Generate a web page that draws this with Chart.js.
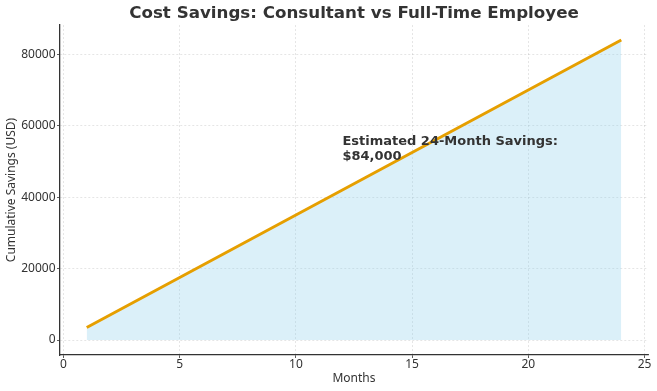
<!DOCTYPE html>
<html>
<head>
<meta charset="utf-8">
<script src="https://cdn.jsdelivr.net/npm/chart.js@4"></script>
<style>
    html, body { margin: 0; padding: 0; background: #fff; }
    #wrap { width: 657px; height: 391px; }
</style>
</head>
<body>
<div id="wrap"><canvas id="savingsChart"></canvas></div>
<script>
const months = [1, 2, 3, 4, 5, 6, 7, 8, 9, 10, 11, 12, 13, 14, 15, 16, 17, 18, 19, 20, 21, 22, 23, 24];
const cumulativeSavings = [
    3500, 7000, 10500, 14000, 17500, 21000, 24500, 28000, 31500, 35000, 38500, 42000,
    45500, 49000, 52500, 56000, 59500, 63000, 66500, 70000, 73500, 77000, 80500, 84000
];
const xTicks = [0, 5, 10, 15, 20, 25];
const yTicks = [0, 20000, 40000, 60000, 80000];
const noteLines = ["Estimated 24-Month Savings:", "$84,000"];
const noteAt = { x: 12, y: 50000 };

const textColor = "#333333";
const gridColor = "rgba(0, 0, 0, 0.13)";
const labelFont = { family: "'Noto Sans'", size: 12 };

// draws the savings note in data coordinates (baseline of last line at noteAt)
const notePlugin = {
    id: "savingsNote",
    afterDatasetsDraw(chart) {
        const { ctx, scales } = chart;
        const px = scales.x.getPixelForValue(noteAt.x);
        const py = scales.y.getPixelForValue(noteAt.y);
        ctx.save();
        ctx.fillStyle = textColor;
        ctx.font = "bold 13px 'DejaVu Sans'";
        ctx.textAlign = "left";
        ctx.textBaseline = "alphabetic";
        const lineH = 14.5;
        noteLines.forEach((line, i) => {
            ctx.fillText(line, px, py - 1.5 - (noteLines.length - 1 - i) * lineH);
        });
        ctx.restore();
    },
};

const ctx = document.getElementById("savingsChart").getContext("2d");
new Chart(ctx, {
    type: "line",
    data: {
        datasets: [{
            data: months.map((m, i) => ({ x: m, y: cumulativeSavings[i] })),
            borderColor: "#E69F00",
            borderWidth: 3,
            backgroundColor: "rgba(135, 206, 235, 0.3)",
            fill: "origin",
            pointRadius: 0,
            tension: 0,
        }],
    },
    options: {
        responsive: true,
        maintainAspectRatio: false,
        animation: false,
        layout: { padding: { left: 0, right: 9, top: 0, bottom: 0 } },
        plugins: {
            legend: { display: false },
            tooltip: { enabled: false },
            title: {
                display: true,
                fullSize: false,
                text: "Cost Savings: Consultant vs Full-Time Employee",
                color: textColor,
                font: { family: "'DejaVu Sans'", size: 16.7, weight: "bold", lineHeight: 1.2 },
                padding: { top: 4, bottom: 1 },
            },
        },
        scales: {
            x: {
                type: "linear",
                min: -0.15,
                max: 25.15,
                afterBuildTicks: (scale) => { scale.ticks = xTicks.map((v) => ({ value: v })); },
                afterFit: (scale) => { scale.height = 36; },
                ticks: {
                    color: textColor,
                    font: labelFont,
                    padding: -1,
                    maxRotation: 0,
                },
                grid: {
                    color: gridColor,
                    lineWidth: 0.8,
                    tickColor: textColor,
                    tickLength: 3,
                },
                border: { color: textColor, width: 1.3, dash: [2, 2] },
                title: {
                    display: true,
                    text: "Months",
                    color: textColor,
                    font: labelFont,
                    padding: { top: 0, bottom: 5 },
                },
            },
            y: {
                type: "linear",
                min: -4200,
                max: 88200,
                afterBuildTicks: (scale) => { scale.ticks = yTicks.map((v) => ({ value: v })); },
                afterFit: (scale) => { scale.width = 60; },
                ticks: {
                    color: textColor,
                    font: labelFont,
                    padding: 1.5,
                    callback: (v) => String(v),
                },
                grid: {
                    color: gridColor,
                    lineWidth: 0.8,
                    tickColor: textColor,
                    tickLength: 3,
                },
                border: { color: textColor, width: 1.3, dash: [2, 2] },
                title: {
                    display: true,
                    text: "Cumulative Savings (USD)",
                    color: textColor,
                    font: labelFont,
                    padding: { top: 4, bottom: 0 },
                },
            },
        },
    },
    plugins: [notePlugin],
});
</script>
</body>
</html>
